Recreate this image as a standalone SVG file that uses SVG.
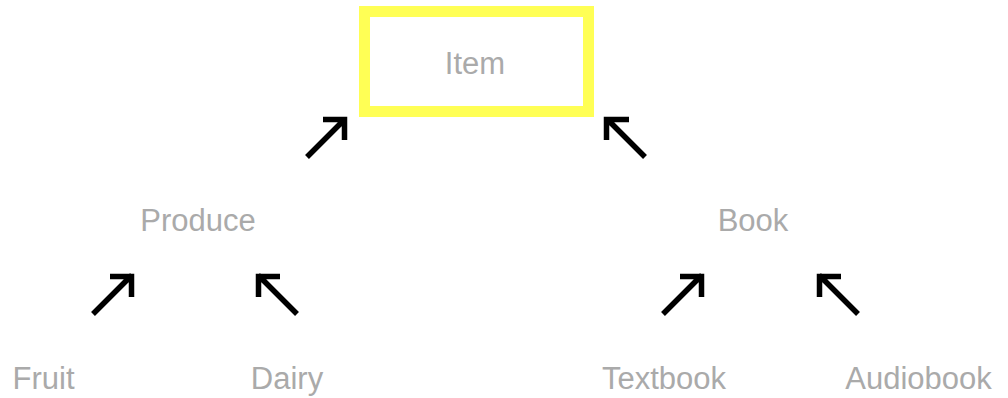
<svg xmlns="http://www.w3.org/2000/svg" width="1008" height="398" viewBox="0 0 1008 398">
  <style>
    .label { font-family: "Liberation Sans", Arial, sans-serif; font-size: 31px; fill: #aaaaaa; text-anchor: middle; }
    .arrow { fill: none; stroke: #000000; stroke-width: 5.5; stroke-linecap: butt; stroke-linejoin: miter; }
    .focus { fill: #ffffff; stroke: #ffff55; stroke-width: 11; }
  </style>
  <rect width="1008" height="398" fill="#ffffff"/>

  <g id="connectors">
    <!-- Item <- Produce -->
    <path class="arrow" d="M307,157 L345,119 M323,119.5 H344.5 V140"/>
    <!-- Item <- Book -->
    <path class="arrow" d="M645,157 L607,119 M629,119.5 H606.5 V140"/>
    <!-- Produce <- Fruit -->
    <path class="arrow" d="M93,314 L132,275 M110,276.5 H131.5 V297"/>
    <!-- Produce <- Dairy -->
    <path class="arrow" d="M297,314 L258,275 M280,276.5 H258.5 V297"/>
    <!-- Book <- Textbook -->
    <path class="arrow" d="M663,314 L702,275 M680,276.5 H701.5 V297"/>
    <!-- Book <- Audiobook -->
    <path class="arrow" d="M858,314 L819,275 M841,276.5 H819.5 V297"/>
  </g>

  <g id="item">
    <rect class="focus" x="364.5" y="11.5" width="224" height="100"/>
    <text class="label" x="475" y="74">Item</text>
  </g>
  <g id="produce">
    <text class="label" x="198" y="231">Produce</text>
  </g>
  <g id="book">
    <text class="label" x="753" y="231">Book</text>
  </g>
  <g id="fruit">
    <text class="label" x="43.5" y="389">Fruit</text>
  </g>
  <g id="dairy">
    <text class="label" x="287" y="389">Dairy</text>
  </g>
  <g id="textbook">
    <text class="label" x="664" y="389">Textbook</text>
  </g>
  <g id="audiobook">
    <text class="label" x="918.5" y="389">Audiobook</text>
  </g>
</svg>
